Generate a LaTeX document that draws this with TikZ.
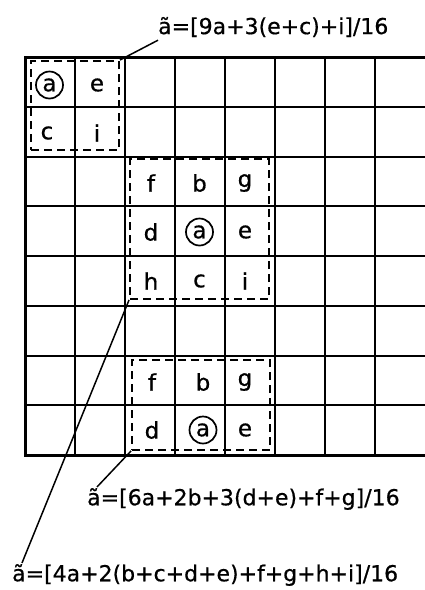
\documentclass[tikz,border=0pt]{standalone}
\usepackage{fontspec}
\setmainfont[FakeBold=0.6]{DejaVu Sans}
\begin{document}
\begin{tikzpicture}[x=1pt,y=-1pt,
  gridline/.style={line width=2pt},
  border/.style={line width=3pt},
  dbox/.style={draw,dashed,line width=1.9pt,dash pattern=on 8pt off 5pt,inner sep=0pt},
  cell/.style={inner sep=0pt,font=\fontsize{23}{26}\selectfont},
  ring/.style={cell,draw,circle,line width=1.7pt,minimum size=27pt},
  formula/.style={inner sep=0pt,anchor=west,font=\fontsize{22}{26}\selectfont},
  leader/.style={line width=1.5pt}]
\useasboundingbox (0,0) rectangle (425,590);
% grid
\foreach \j in {1,...,7} {\draw[gridline] (25,57+49.75*\j) -- (425,57+49.75*\j);}
\foreach \i in {1,...,7} {\draw[gridline] (25+50*\i,57) -- (25+50*\i,455);}
\draw[border] (425,57) -- (25,57) -- (25,455) -- (425,455);
% top-left block
\node[ring] (a1) at (49.5,85) {a};
\node[cell] (e1) at (97,85) {e};
\node[cell] (c1) at (47,133) {c};
\node[cell] (i1) at (97,133) {i};
\node[dbox,minimum width=88pt,minimum height=89pt] (box1) at (75,105.5) {};
% middle block
\node[cell] (f2) at (151,183) {f};
\node[cell] (b2) at (199.5,183) {b};
\node[cell] (g2) at (245,183) {g};
\node[cell] (d2) at (151,232) {d};
\node[ring] (a2) at (199.5,232) {a};
\node[cell] (e2) at (245,232) {e};
\node[cell] (h2) at (151,281) {h};
\node[cell] (c2) at (199.5,281) {c};
\node[cell] (i2) at (245,281) {i};
\node[dbox,minimum width=139pt,minimum height=140pt] (box2) at (199.5,229) {};
% bottom block
\node[cell] (f3) at (152,382) {f};
\node[cell] (b3) at (203,382) {b};
\node[cell] (g3) at (245,382) {g};
\node[cell] (d3) at (152,430) {d};
\node[ring] (a3) at (203,430) {a};
\node[cell] (e3) at (245,430) {e};
\node[dbox,minimum width=138pt,minimum height=90pt] (box3) at (201,405) {};
% formulas
\node[formula] (F1) at (158,27) {ã=[9a+3(e+c)+i]/16};
\node[formula] (F2) at (87,499) {ã=[6a+2b+3(d+e)+f+g]/16};
\node[formula] (F3) at (12,575) {ã=[4a+2(b+c+d+e)+f+g+h+i]/16};
% leaders
\draw[leader] (box1.north east) -- ([yshift=-3pt]F1.south west);
\draw[leader] (box3.south west) -- ([xshift=10pt,yshift=1pt]F2.north west);
\draw[leader] (box2.south west) -- ([xshift=10pt,yshift=1pt]F3.north west);
\end{tikzpicture}
\end{document}
